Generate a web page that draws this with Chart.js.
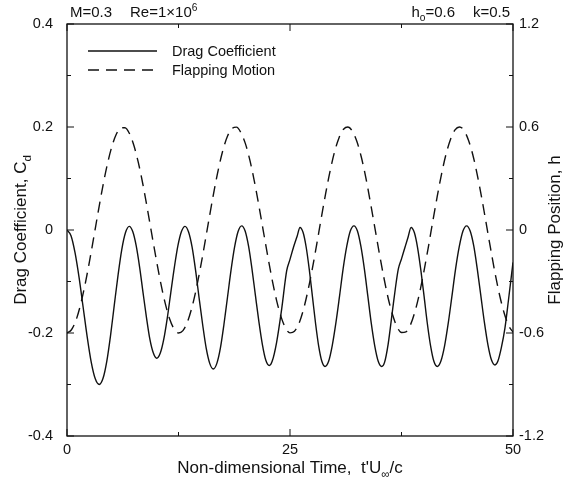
<!DOCTYPE html>
<html>
<head>
<meta charset="utf-8">
<script src="https://cdn.jsdelivr.net/npm/chart.js@4.4.1/dist/chart.umd.min.js"></script>
<style>
  html, body { margin: 0; padding: 0; background: #fff; }
</style>
</head>
<body>
<canvas id="flapChart" width="574" height="484"></canvas>
<script>
// Drag coefficient history (left axis)
const cdTime = [
  0, 0.45, 0.9, 1.36, 1.81, 2.26, 2.71, 3.17, 3.62, 4.04, 4.46, 4.88, 5.3, 5.72, 6.14, 6.56, 6.98,
  7.37, 7.75, 8.14, 8.52, 8.91, 9.29, 9.68, 10.06, 10.46, 10.85, 11.25, 11.64, 12.04, 12.44, 12.83, 13.23,
  13.63, 14.02, 14.42, 14.81, 15.21, 15.61, 16.0, 16.4, 16.8, 17.2, 17.59, 17.99, 18.39, 18.79, 19.18, 19.58,
  19.97, 20.36, 20.74, 21.13, 21.52, 21.91, 22.29, 22.68, 23.0, 23.5, 24.07, 24.63, 25.0, 25.4, 25.8, 26.12,
  26.47, 26.82, 27.17, 27.52, 27.87, 28.22, 28.57, 28.92, 29.33, 29.73, 30.14, 30.55, 30.95, 31.36, 31.76, 32.17,
  32.56, 32.95, 33.34, 33.73, 34.11, 34.5, 34.89, 35.28, 35.6, 36.0, 36.5, 36.8, 37.14, 37.5, 37.9, 38.25, 38.57,
  38.94, 39.3, 39.67, 40.04, 40.4, 40.77, 41.13, 41.5, 41.91, 42.33, 42.74, 43.15, 43.56, 43.98, 44.39, 44.8,
  45.2, 45.6, 45.99, 46.39, 46.79, 47.19, 47.58, 47.98, 48.3, 48.7, 49.1, 49.5, 50.0
];
const cdValue = [
  0, -0.011, -0.044, -0.093, -0.15, -0.207, -0.256, -0.289, -0.3, -0.288, -0.255, -0.205, -0.146, -0.088, -0.038, -0.005, 0.007,
  -0.003, -0.03, -0.072, -0.121, -0.17, -0.212, -0.239, -0.249, -0.239, -0.212, -0.17, -0.121, -0.072, -0.03, -0.003, 0.007,
  -0.004, -0.033, -0.079, -0.132, -0.184, -0.23, -0.259, -0.27, -0.259, -0.229, -0.184, -0.131, -0.078, -0.033, -0.003, 0.008,
  -0.002, -0.032, -0.076, -0.128, -0.179, -0.223, -0.253, -0.263, -0.255, -0.218, -0.153, -0.079, -0.057, -0.033, -0.012, 0.005,
  -0.005, -0.034, -0.078, -0.13, -0.182, -0.226, -0.255, -0.265, -0.255, -0.225, -0.181, -0.129, -0.076, -0.032, -0.002, 0.008,
  -0.002, -0.032, -0.076, -0.129, -0.181, -0.225, -0.255, -0.265, -0.257, -0.222, -0.155, -0.115, -0.076, -0.056, -0.033, -0.013, 0.005,
  -0.005, -0.034, -0.078, -0.13, -0.182, -0.226, -0.255, -0.265, -0.255, -0.225, -0.181, -0.129, -0.076, -0.032, -0.002, 0.008,
  -0.002, -0.031, -0.075, -0.127, -0.179, -0.223, -0.252, -0.262, -0.255, -0.228, -0.19, -0.135, -0.063
];

// Flapping position h (right axis)
const flapTime = [
  0, 0.5, 1, 1.5, 2, 2.5, 3, 3.5, 4, 4.5, 5, 5.5, 6, 6.5, 7, 7.5, 8, 8.5, 9, 9.5,
  10, 10.5, 11, 11.5, 12, 12.5, 13, 13.5, 14, 14.5, 15, 15.5, 16, 16.5, 17, 17.5, 18, 18.5, 19, 19.5,
  20, 20.5, 21, 21.5, 22, 22.5, 23, 23.5, 24, 24.5, 25, 25.5, 26, 26.5, 27, 27.5, 28, 28.5, 29, 29.5,
  30, 30.5, 31, 31.5, 32, 32.5, 33, 33.5, 34, 34.5, 35, 35.5, 36, 36.5, 37, 37.5, 38, 38.5, 39, 39.5,
  40, 40.5, 41, 41.5, 42, 42.5, 43, 43.5, 44, 44.5, 45, 45.5, 46, 46.5, 47, 47.5, 48, 48.5, 49, 49.5, 50
];
const flapValue = [
  -0.6, -0.581, -0.527, -0.439, -0.324, -0.189, -0.042, 0.107, 0.25, 0.377, 0.481, 0.555, 0.594, 0.596, 0.562, 0.492, 0.392, 0.268, 0.126, -0.023,
  -0.17, -0.307, -0.425, -0.517, -0.576, -0.6, -0.586, -0.536, -0.452, -0.341, -0.208, -0.062, 0.087, 0.231, 0.361, 0.469, 0.547, 0.591, 0.599, 0.567,
  0.503, 0.407, 0.285, 0.145, -0.003, -0.151, -0.29, -0.411, -0.506, -0.571, -0.599, -0.59, -0.545, -0.465, -0.356, -0.227, -0.082, 0.068, 0.213, 0.345,
  0.456, 0.538, 0.587, 0.6, 0.575, 0.515, 0.424, 0.305, 0.165, 0.017, -0.132, -0.271, -0.396, -0.494, -0.564, -0.597, -0.593, -0.553, -0.477, -0.373,
  -0.245, -0.102, 0.048, 0.194, 0.329, 0.443, 0.529, 0.583, 0.6, 0.581, 0.524, 0.437, 0.32, 0.185, 0.037, -0.112, -0.255, -0.38, -0.482, -0.556, -0.595
];

// Axis ranges and tick spacing (major labelled, minor just marks)
const xRange = [0, 50], xMajor = 25, xMinor = 12.5;
const cdRange = [-0.4, 0.4], cdMajor = 0.2, cdMinor = 0.1;
const hRange = [-1.2, 1.2], hMajor = 0.6, hMinor = 0.3;

const FONT = "'Liberation Sans', Arial, sans-serif";
const INK = "#111";

function toPoints(xs, ys) {
  return xs.map((x, i) => ({ x: x, y: ys[i] }));
}

// Draw a run of text pieces, some of them sub/superscript
function drawRuns(ctx, runs, x, y, size, align) {
  const widths = runs.map((r) => {
    ctx.font = `${r.sub || r.sup ? size * 0.68 : size}px ${FONT}`;
    return ctx.measureText(r.text).width;
  });
  const total = widths.reduce((a, b) => a + b, 0);
  let cx = align === "center" ? x - total / 2 : align === "right" ? x - total : x;
  runs.forEach((r, i) => {
    ctx.font = `${r.sub || r.sup ? size * 0.68 : size}px ${FONT}`;
    const dy = r.sub ? size * 0.28 : r.sup ? -size * 0.42 : 0;
    ctx.fillText(r.text, cx, y + dy);
    cx += widths[i];
  });
}

// Tick marks pointing into the plot, like the original figure
function inwardTicks(ctx, scale, minor, major, side, area) {
  const n = Math.round((scale.max - scale.min) / minor);
  for (let i = 0; i <= n; i++) {
    const v = scale.min + i * minor;
    const isMajor = Math.abs(v / major - Math.round(v / major)) < 1e-6;
    const len = isMajor ? 7 : 4;
    const p = scale.getPixelForValue(v);
    ctx.beginPath();
    if (side === "bottom") { ctx.moveTo(p, area.bottom); ctx.lineTo(p, area.bottom - len); }
    if (side === "top") { ctx.moveTo(p, area.top); ctx.lineTo(p, area.top + len); }
    if (side === "left") { ctx.moveTo(area.left, p); ctx.lineTo(area.left + len, p); }
    if (side === "right") { ctx.moveTo(area.right, p); ctx.lineTo(area.right - len, p); }
    ctx.stroke();
  }
}

const paperLook = {
  id: "paperLook",
  beforeDraw(chart) {
    const { ctx } = chart;
    ctx.save();
    ctx.fillStyle = "#fff";
    ctx.fillRect(0, 0, chart.width, chart.height);
    ctx.restore();
  },
  afterDraw(chart) {
    const { ctx, chartArea: a, scales } = chart;
    ctx.save();
    ctx.strokeStyle = INK;
    ctx.lineWidth = 1.3;
    ctx.strokeRect(a.left, a.top, a.right - a.left, a.bottom - a.top);
    ctx.lineWidth = 1;
    inwardTicks(ctx, scales.x, xMinor, xMajor, "bottom", a);
    inwardTicks(ctx, scales.x, xMinor, xMajor, "top", a);
    inwardTicks(ctx, scales.y, cdMinor, cdMajor, "left", a);
    inwardTicks(ctx, scales.y1, hMinor, hMajor, "right", a);

    ctx.fillStyle = INK;
    ctx.textBaseline = "alphabetic";

    // case parameters above the frame
    drawRuns(ctx, [{ text: "M=0.3" }], a.left + 3, a.top - 7, 15, "left");
    drawRuns(ctx, [{ text: "Re=1\u00d710" }, { text: "6", sup: true }], a.left + 63, a.top - 7, 15, "left");
    drawRuns(ctx, [{ text: "h" }, { text: "o", sub: true }, { text: "=0.6" }], a.right - 58, a.top - 7, 15, "right");
    drawRuns(ctx, [{ text: "k=0.5" }], a.right - 3, a.top - 7, 15, "right");

    // legend inside the frame
    chart.data.datasets.forEach((ds, i) => {
      const ly = a.top + 27 + i * 19;
      ctx.save();
      ctx.lineWidth = 1.3;
      ctx.setLineDash(ds.borderDash || []);
      ctx.beginPath();
      ctx.moveTo(a.left + 21, ly);
      ctx.lineTo(a.left + 90, ly);
      ctx.stroke();
      ctx.restore();
      drawRuns(ctx, [{ text: ds.label }], a.left + 105, ly + 5, 14.5, "left");
    });

    // axis titles
    const midX = (a.left + a.right) / 2;
    const midY = (a.top + a.bottom) / 2;
    drawRuns(ctx, [{ text: "Non-dimensional Time,  t'U" }, { text: "\u221e", sub: true }, { text: "/c" }],
      midX, chart.height - 11, 17, "center");

    ctx.save();
    ctx.translate(20, midY);
    ctx.rotate(-Math.PI / 2);
    drawRuns(ctx, [{ text: "Drag Coefficient, C" }, { text: "d", sub: true }], 0, 6, 17, "center");
    ctx.restore();

    ctx.save();
    ctx.translate(chart.width - 20, midY);
    ctx.rotate(-Math.PI / 2);
    drawRuns(ctx, [{ text: "Flapping Position, h" }], 0, 6, 17, "center");
    ctx.restore();

    ctx.restore();
  }
};

const tickFont = { family: FONT, size: 14.5 };
const roundLabel = (v) => String(Math.round(v * 10) / 10);

new Chart(document.getElementById("flapChart"), {
  type: "line",
  data: {
    datasets: [
      {
        label: "Drag Coefficient",
        data: toPoints(cdTime, cdValue),
        yAxisID: "y",
        borderColor: INK,
        borderWidth: 1.4,
        pointRadius: 0,
        cubicInterpolationMode: "monotone",
      },
      {
        label: "Flapping Motion",
        data: toPoints(flapTime, flapValue),
        yAxisID: "y1",
        borderColor: INK,
        borderWidth: 1.4,
        borderDash: [11, 7],
        pointRadius: 0,
        cubicInterpolationMode: "monotone",
      },
    ],
  },
  options: {
    responsive: false,
    animation: false,
    layout: { padding: { top: 24, left: 0, right: 0, bottom: 0 } },
    plugins: { legend: { display: false }, tooltip: { enabled: false } },
    scales: {
      x: {
        type: "linear",
        min: xRange[0],
        max: xRange[1],
        grid: { display: false, drawTicks: false },
        border: { display: false },
        ticks: { stepSize: xMajor, font: tickFont, color: INK, padding: 5, maxRotation: 0, callback: roundLabel },
        afterFit: (s) => { s.height = 48; },
      },
      y: {
        position: "left",
        min: cdRange[0],
        max: cdRange[1],
        grid: { display: false, drawTicks: false },
        border: { display: false },
        ticks: { stepSize: cdMajor, font: tickFont, color: INK, padding: 14, callback: roundLabel },
        afterFit: (s) => { s.width = 67; },
      },
      y1: {
        position: "right",
        min: hRange[0],
        max: hRange[1],
        grid: { display: false, drawTicks: false },
        border: { display: false },
        ticks: { stepSize: hMajor, font: tickFont, color: INK, padding: 6, callback: roundLabel },
        afterFit: (s) => { s.width = 61; },
      },
    },
  },
  plugins: [paperLook],
});
</script>
</body>
</html>
